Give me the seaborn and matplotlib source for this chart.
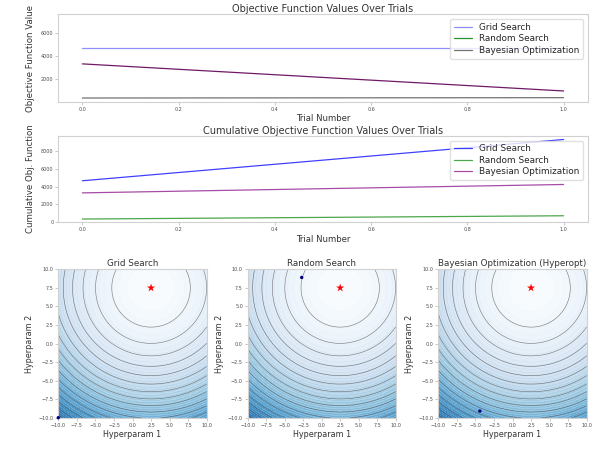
import numpy as np
import matplotlib.pyplot as plt
import seaborn as sns
from matplotlib.lines import Line2D

# values
trials = [0, 1]
grid_vals = [4670, 4670]
random_vals = [340, 370]
bayes_vals = [3300, 950]
methods = ["Grid Search", "Random Search", "Bayesian Optimization"]

panel_titles = ["Grid Search", "Random Search", "Bayesian Optimization (Hyperopt)"]
optimum = [2.5, 7.5]
best_h1 = [-10.0, -2.7, -4.4]
best_h2 = [-10.0, 8.9, -9.1]
hp_ticks = [-10.0, -7.5, -5.0, -2.5, 0.0, 2.5, 5.0, 7.5, 10.0]
top_yticks = [2000, 4000, 6000]
mid_yticks = [0, 2000, 4000, 6000, 8000]

sns.set_theme(style="white")
plt.rcParams["font.family"] = ["DejaVu Sans"]
plt.rcParams["axes.edgecolor"] = "0.82"
plt.rcParams["axes.linewidth"] = 0.8

W, H = 596, 476
def box(l, t, r, b):
    return [l / W, 1 - b / H, (r - l) / W, (b - t) / H]

fig = plt.figure(figsize=(W / 100, H / 100), dpi=100)

def style_ticks(ax):
    ax.tick_params(bottom=True, left=True, labelsize=3.5, length=2, width=0.5,
                   pad=1.5, color="0.7", labelcolor="0.3")

# objective values
ax1 = fig.add_axes(box(58.3, 14.3, 587.7, 101.7))
sns.lineplot(x=trials, y=grid_vals, color="blue", alpha=0.45, lw=0.9, ax=ax1)
sns.lineplot(x=trials, y=bayes_vals, color="#6e1a66", lw=0.9, ax=ax1)
sns.lineplot(x=trials, y=random_vals, color="0.45", lw=0.9, ax=ax1)
ax1.set_ylim(20, 7600)
ax1.set_yticks(top_yticks)
ax1.set_title("Objective Function Values Over Trials", fontsize=7, pad=1.5, color="0.2")
ax1.set_xlabel("Trial Number", fontsize=6.1, labelpad=2, color="0.2")
ax1.set_ylabel("Objective Function Value", fontsize=6.2, labelpad=4, color="0.2")
style_ticks(ax1)
handles = [Line2D([], [], color="blue", alpha=0.45, lw=0.9),
           Line2D([], [], color="green", alpha=0.85, lw=0.9),
           Line2D([], [], color="0.45", lw=0.9)]
ax1.legend(handles, methods, loc="upper right", fontsize=6.4, labelspacing=0.3,
           frameon=True, edgecolor="0.85", borderaxespad=0.55)

# cumulative values
ax2 = fig.add_axes(box(58.3, 135.7, 587.7, 222.3))
sns.lineplot(x=trials, y=np.cumsum(grid_vals), color="blue", alpha=0.75, lw=0.9,
             ax=ax2, label=methods[0])
sns.lineplot(x=trials, y=np.cumsum(random_vals), color="green", alpha=0.7, lw=0.9,
             ax=ax2, label=methods[1])
sns.lineplot(x=trials, y=np.cumsum(bayes_vals), color="purple", alpha=0.7, lw=0.9,
             ax=ax2, label=methods[2])
ax2.set_ylim(-30, 9770)
ax2.set_yticks(mid_yticks)
ax2.set_title("Cumulative Objective Function Values Over Trials", fontsize=7, pad=1.5, color="0.2")
ax2.set_xlabel("Trial Number", fontsize=6.1, labelpad=2, color="0.2")
ax2.set_ylabel("Cumulative Obj. Function", fontsize=6.2, labelpad=4, color="0.2")
style_ticks(ax2)
ax2.legend(loc="upper right", fontsize=6.4, labelspacing=0.3, frameon=True,
           edgecolor="0.85", borderaxespad=0.55)

# search landscapes
h1 = np.linspace(-10, 10, 300)
h2 = np.linspace(-10, 10, 300)
G1, G2 = np.meshgrid(h1, h2)
Z = (G1 - optimum[0]) ** 2 + (G2 - optimum[1]) ** 2

positions = [box(58.3, 269.3, 206.7, 417.7),
             box(247.7, 269.3, 395.7, 417.7),
             box(438.3, 269.3, 586.7, 417.7)]
for pos, title, bx, by in zip(positions, panel_titles, best_h1, best_h2):
    ax = fig.add_axes(pos)
    ax.contourf(G1, G2, Z, levels=50, cmap="Blues", alpha=0.8, vmin=0, vmax=620)
    ax.contour(G1, G2, Z, levels=np.arange(28, 470, 28), colors="0.3",
               linewidths=0.45, alpha=0.7)
    sns.scatterplot(x=[optimum[0]], y=[optimum[1]], marker="*", color="red",
                    s=38, edgecolor="none", ax=ax)
    sns.scatterplot(x=[bx], y=[by], color="navy", s=6, edgecolor="none",
                    clip_on=False, zorder=5, ax=ax)
    ax.set_xlim(-10, 10)
    ax.set_ylim(-10, 10)
    ax.set_xticks(hp_ticks)
    ax.set_yticks(hp_ticks)
    ax.set_title(title, fontsize=6.3, pad=2.5, color="0.2")
    ax.set_xlabel("Hyperparam 1", fontsize=5.8, labelpad=1.5, color="0.2")
    ax.set_ylabel("Hyperparam 2", fontsize=5.8, labelpad=3, color="0.2")
    style_ticks(ax)

fig.savefig("out.png", dpi=100)
